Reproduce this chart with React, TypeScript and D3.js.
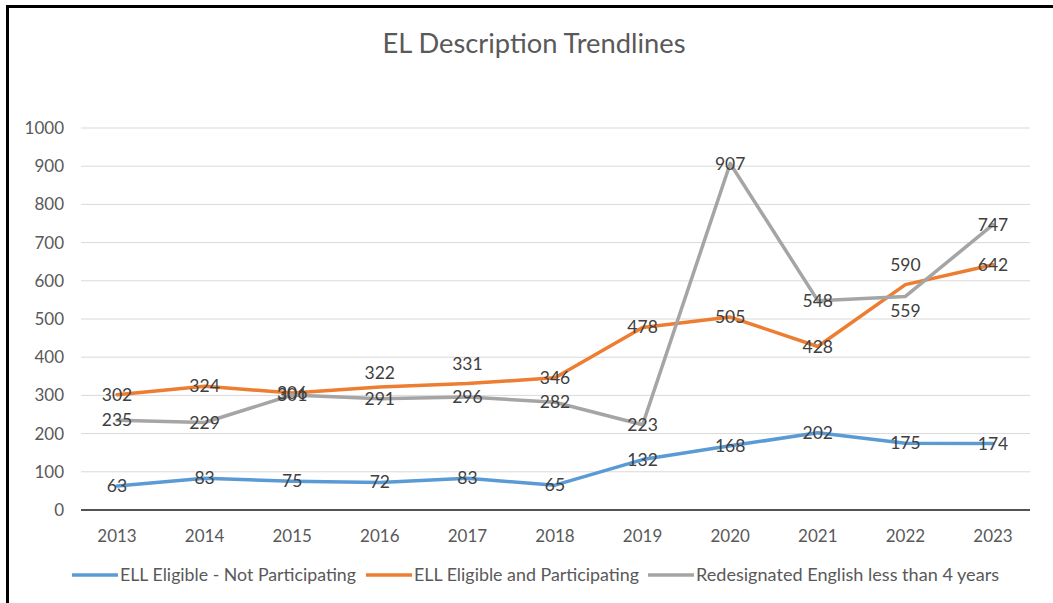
import React from "react";
import * as d3 from "d3";

const years = ["2013","2014","2015","2016","2017","2018","2019","2020","2021","2022","2023"];
const notParticipating = [63,83,75,72,83,65,132,168,202,175,174];
const participating = [302,324,306,322,331,346,478,505,428,590,642];
const redesignated = [235,229,301,291,296,282,223,907,548,559,747];
const yTicks = [0,100,200,300,400,500,600,700,800,900,1000];
const seriesNames = ["ELL Eligible - Not Participating","ELL Eligible and Participating","Redesignated English less than 4 years"];
const colors = ["#5B9BD5","#ED7D31","#A5A5A5"];

// label vertical nudges (px) per series per point
const nudges = [
  [0,0,0,0,0,0,0,0,0,0,0],
  [0,0,0,-14,-20,0,0,0,0,-20,0],
  [0,0,0,0,0,0,0,0,0,15,0],
];
const legendX = [72, 366, 648];
const legendLineW = 46;
const legendTextW = [236, 225, 303];

const W = 1053, H = 603;
const FONT = "Lato, 'Open Sans', sans-serif";

export default function App() {
  const x = d3.scalePoint<string>().domain(years).range([117, 993]);
  const y = d3.scaleLinear().domain([0, 1000]).range([510, 128]);
  const line = d3.line<number>().x((_, i) => x(years[i])!).y(d => y(d));
  const series = [notParticipating, participating, redesignated];
  return (
    <svg width={W} height={H} style={{ position: "absolute", left: 0, top: 0, background: "#fff" }}>
      <rect x={0} y={0} width={W} height={H} fill="#fff" />
      <line x1={7.5} y1={5} x2={7.5} y2={H} stroke="#000" strokeWidth={3} />
      <line x1={6} y1={6.5} x2={W} y2={6.5} stroke="#000" strokeWidth={3} />
      <text x={534} y={53} textAnchor="middle" fontFamily={FONT} fontSize={26} fill="#595959" textLength={303} lengthAdjust="spacingAndGlyphs">EL Description Trendlines</text>
      {yTicks.map(t => (
        <g key={t}>
          {t !== 0 && <line x1={81} x2={1030} y1={y(t)} y2={y(t)} stroke="#d9d9d9" strokeWidth={1} />}
          <text x={64} y={y(t) + 6} textAnchor="end" fontFamily={FONT} fontSize={17} fill="#595959">{t}</text>
        </g>
      ))}
      <line x1={81} x2={1030} y1={y(0)} y2={y(0)} stroke="#1a1a1a" strokeWidth={1.5} />
      {years.map(yr => (
        <text key={yr} x={x(yr)} y={542} textAnchor="middle" fontFamily={FONT} fontSize={17} fill="#595959">{yr}</text>
      ))}
      {series.map((s, si) => (
        <path key={si} d={line(s)!} fill="none" stroke={colors[si]} strokeWidth={3.5} strokeLinejoin="round" strokeLinecap="round" />
      ))}
      {series.map((s, si) => s.map((v, i) => (
        <text key={`${si}-${i}`} x={x(years[i])} y={y(v) + 6 + nudges[si][i]} textAnchor="middle" fontFamily={FONT} fontSize={17.5} fill="#404040">{v}</text>
      )))}
      {seriesNames.map((n, i) => (
        <g key={n}>
          <line x1={legendX[i]} x2={legendX[i] + legendLineW} y1={575} y2={575} stroke={colors[i]} strokeWidth={3.5} />
          <text x={legendX[i] + legendLineW + 2} y={581} fontFamily={FONT} fontSize={17} fill="#595959" textLength={legendTextW[i]} lengthAdjust="spacingAndGlyphs">{n}</text>
        </g>
      ))}
    </svg>
  );
}
